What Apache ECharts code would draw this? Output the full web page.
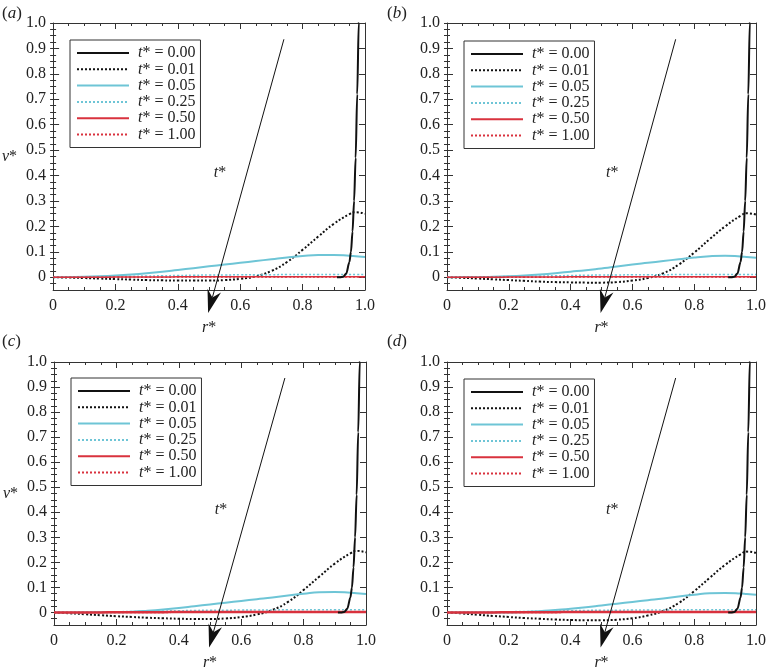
<!DOCTYPE html>
<html>
<head>
<meta charset="utf-8">
<script src="https://cdn.jsdelivr.net/npm/echarts@6/dist/echarts.min.js"></script>
<style>
  html, body { margin: 0; padding: 0; background: #fff; }
  #chart { width: 769px; height: 672px; }
</style>
</head>
<body>
<div id="chart"></div>
<script>
// ---- data ----
const seriesNames = ["t* = 0.00", "t* = 0.01", "t* = 0.05", "t* = 0.25", "t* = 0.50", "t* = 1.00"];
const xTicks = [0, 0.2, 0.4, 0.6, 0.8, 1.0];
const yTicks = [0, 0.1, 0.2, 0.3, 0.4, 0.5, 0.6, 0.7, 0.8, 0.9, 1.0];

// common r* sampling
const rGrid = [0, 0.05, 0.1, 0.15, 0.2, 0.25, 0.3, 0.35, 0.4, 0.45, 0.5, 0.55, 0.6, 0.65, 0.7, 0.75, 0.8, 0.85, 0.9, 0.95, 0.97, 1.0];
// r* sampling for the initial (t* = 0) wall profile
const rEdge = [0.91, 0.92, 0.93, 0.94, 0.95, 0.955, 0.96, 0.965, 0.97, 0.975, 0.98, 0.985];

// panel (a)
const v000A = [0, 0, 0.002, 0.015, 0.06, 0.1, 0.18, 0.3, 0.47, 0.72, 1.0, 1.35];
const v001A = [0, -0.001, -0.003, -0.005, -0.007, -0.009, -0.011, -0.012, -0.013, -0.013, -0.013, -0.011, -0.006, 0.004, 0.025, 0.06, 0.108, 0.16, 0.21, 0.248, 0.256, 0.25];
const v005A = [0, 0.001, 0.002, 0.004, 0.007, 0.011, 0.016, 0.022, 0.029, 0.036, 0.043, 0.05, 0.057, 0.064, 0.071, 0.078, 0.084, 0.088, 0.088, 0.085, 0.083, 0.08];
const v025A = [0, 0.001, 0.001, 0.002, 0.003, 0.004, 0.005, 0.006, 0.007, 0.008, 0.009, 0.009, 0.01, 0.01, 0.01, 0.011, 0.011, 0.011, 0.011, 0.011, 0.011, 0.011];
const v050A = [0, 0, 0, 0, 0.001, 0.001, 0.001, 0.001, 0.002, 0.002, 0.002, 0.002, 0.002, 0.002, 0.002, 0.002, 0.002, 0.002, 0.002, 0.002, 0.002, 0.002];
const v100A = [0, 0, 0, 0, 0, 0, 0, 0, 0.001, 0.001, 0.001, 0.001, 0.001, 0.001, 0.001, 0.001, 0.001, 0.001, 0.001, 0.001, 0.001, 0.001];

// panel (b)
const v000B = [0, 0, 0.002, 0.015, 0.06, 0.1, 0.18, 0.3, 0.47, 0.72, 1.0, 1.35];
const v001B = [0, -0.002, -0.005, -0.008, -0.011, -0.014, -0.017, -0.019, -0.02, -0.021, -0.021, -0.019, -0.013, -0.003, 0.016, 0.05, 0.097, 0.15, 0.2, 0.242, 0.252, 0.247];
const v005B = [0, 0.001, 0.001, 0.002, 0.004, 0.007, 0.011, 0.016, 0.022, 0.028, 0.035, 0.042, 0.05, 0.057, 0.064, 0.071, 0.078, 0.083, 0.085, 0.082, 0.08, 0.077];
const v025B = [0, 0.001, 0.001, 0.002, 0.003, 0.004, 0.005, 0.006, 0.007, 0.008, 0.009, 0.009, 0.01, 0.01, 0.01, 0.011, 0.011, 0.011, 0.011, 0.011, 0.011, 0.011];
const v050B = [0, 0, 0, 0, 0.001, 0.001, 0.001, 0.001, 0.002, 0.002, 0.002, 0.002, 0.002, 0.002, 0.002, 0.002, 0.002, 0.002, 0.002, 0.002, 0.002, 0.002];
const v100B = [0, 0, 0, 0, 0, 0, 0, 0, 0.001, 0.001, 0.001, 0.001, 0.001, 0.001, 0.001, 0.001, 0.001, 0.001, 0.001, 0.001, 0.001, 0.001];

// panel (c)
const v000C = [0, 0, 0.002, 0.015, 0.06, 0.1, 0.18, 0.3, 0.47, 0.72, 1.0, 1.35];
const v001C = [0, -0.003, -0.007, -0.011, -0.015, -0.018, -0.021, -0.023, -0.025, -0.026, -0.026, -0.024, -0.018, -0.008, 0.01, 0.042, 0.09, 0.143, 0.195, 0.236, 0.246, 0.24];
const v005C = [0, 0, 0, 0.001, 0.001, 0.003, 0.007, 0.012, 0.018, 0.025, 0.032, 0.039, 0.046, 0.053, 0.06, 0.068, 0.075, 0.081, 0.082, 0.079, 0.077, 0.074];
const v025C = [0, 0.001, 0.001, 0.002, 0.003, 0.004, 0.005, 0.006, 0.007, 0.008, 0.009, 0.009, 0.01, 0.01, 0.01, 0.011, 0.011, 0.011, 0.011, 0.011, 0.011, 0.011];
const v050C = [0, 0, 0, 0, 0.001, 0.001, 0.001, 0.001, 0.002, 0.002, 0.002, 0.002, 0.002, 0.002, 0.002, 0.002, 0.002, 0.002, 0.002, 0.002, 0.002, 0.002];
const v100C = [0, 0, 0, 0, 0, 0, 0, 0, 0.001, 0.001, 0.001, 0.001, 0.001, 0.001, 0.001, 0.001, 0.001, 0.001, 0.001, 0.001, 0.001, 0.001];

// panel (d)
const v000D = [0, 0, 0.002, 0.015, 0.06, 0.1, 0.18, 0.3, 0.47, 0.72, 1.0, 1.35];
const v001D = [0, -0.004, -0.009, -0.014, -0.018, -0.022, -0.025, -0.028, -0.03, -0.031, -0.031, -0.029, -0.023, -0.012, 0.006, 0.038, 0.085, 0.138, 0.19, 0.232, 0.243, 0.238];
const v005D = [0, 0, 0, 0, 0, 0.002, 0.005, 0.01, 0.015, 0.021, 0.028, 0.035, 0.042, 0.049, 0.056, 0.064, 0.071, 0.077, 0.078, 0.076, 0.074, 0.071];
const v025D = [0, 0.001, 0.001, 0.002, 0.003, 0.004, 0.005, 0.006, 0.007, 0.008, 0.009, 0.009, 0.01, 0.01, 0.01, 0.011, 0.011, 0.011, 0.011, 0.011, 0.011, 0.011];
const v050D = [0, 0, 0, 0, 0.001, 0.001, 0.001, 0.001, 0.002, 0.002, 0.002, 0.002, 0.002, 0.002, 0.002, 0.002, 0.002, 0.002, 0.002, 0.002, 0.002, 0.002];
const v100D = [0, 0, 0, 0, 0, 0, 0, 0, 0.001, 0.001, 0.001, 0.001, 0.001, 0.001, 0.001, 0.001, 0.001, 0.001, 0.001, 0.001, 0.001, 0.001];

// annotation: "t*" label and the arrow through the curves (data coords)
const tLabelPos = [0.535, 0.41];
const arrowFrom = [0.74, 0.936];
const arrowTo = [0.497, -0.14];

// ---- layout / style ----
const FONT = "Liberation Serif";
const BLACK = "#111";
const CYAN = "#6ec5d6";
const RED = "#d9323e";
const FRAME = "#333";
const TEXT = "#222";

const panels = [
  { tag: "a", grid: { left: 53, top: 23, width: 312, height: 267 }, legend: { left: 70, top: 40 }, title: { left: 2, top: 5 }, yName: true,
    data: [v000A, v001A, v005A, v025A, v050A, v100A], redWidth: 1.5 },
  { tag: "b", grid: { left: 447, top: 23, width: 310, height: 267 }, legend: { left: 464, top: 41 }, title: { left: 387, top: 5 }, yName: false,
    data: [v000B, v001B, v005B, v025B, v050B, v100B], redWidth: 1.5 },
  { tag: "c", grid: { left: 54, top: 362, width: 312, height: 266 }, legend: { left: 71, top: 378 }, title: { left: 2, top: 333 }, yName: true,
    data: [v000C, v001C, v005C, v025C, v050C, v100C], redWidth: 2.5 },
  { tag: "d", grid: { left: 447, top: 362, width: 310, height: 266 }, legend: { left: 464, top: 379 }, title: { left: 387, top: 333 }, yName: false,
    data: [v000D, v001D, v005D, v025D, v050D, v100D], redWidth: 2.5 }
];

const curveStyles = [
  { color: BLACK, width: 2, type: "solid" },
  { color: BLACK, width: 2, type: [2, 2] },
  { color: CYAN, width: 2, type: "solid" },
  { color: CYAN, width: 1.5, type: [2, 2] },
  { color: RED, width: 1.5, type: "solid" },
  { color: RED, width: 1.5, type: [2, 2] }
];

const yMinor = [];
for (let k = -1; k <= 40; k++) yMinor.push(+(k * 0.025).toFixed(3));

const labelFmt = (v) => (Math.abs(v) < 1e-9 ? "0" : v.toFixed(1));
const tickText = { fontFamily: FONT, fontSize: 16, color: TEXT };
const italicRich = (size) => ({ i: { fontFamily: FONT, fontSize: size, fontStyle: "italic", color: TEXT } });

// arrow + "t*" label, positioned through the axis scales
function renderAnnotation(params, api) {
  const lp = api.coord([api.value(0), api.value(1)]);
  const p0 = api.coord(arrowFrom);
  const p1 = api.coord(arrowTo);
  const dx = p1[0] - p0[0], dy = p1[1] - p0[1];
  const len = Math.sqrt(dx * dx + dy * dy);
  const ux = dx / len, uy = dy / len;   // direction
  const nx = -uy, ny = ux;              // normal
  const L = 23, W = 7, notch = 7;
  const bx = p1[0] - ux * L, by = p1[1] - uy * L;
  const mx = p1[0] - ux * (L - notch), my = p1[1] - uy * (L - notch);
  return {
    type: "group",
    children: [
      { type: "line", shape: { x1: p0[0], y1: p0[1], x2: mx, y2: my }, style: { stroke: "#111", lineWidth: 1 } },
      { type: "polygon", shape: { points: [[p1[0], p1[1]], [bx + nx * W, by + ny * W], [mx, my], [bx - nx * W, by - ny * W]] },
        style: { fill: "#111" } },
      { type: "text", x: lp[0], y: lp[1],
        style: { text: "{i|t}*", rich: italicRich(16), fontFamily: FONT, fontSize: 16, fill: TEXT, align: "center", verticalAlign: "middle" } }
    ]
  };
}

const grid = [], xAxis = [], yAxis = [], legend = [], title = [], series = [];

panels.forEach((p, gi) => {
  grid.push(Object.assign({ show: false }, p.grid));

  title.push({
    text: "{p|(}{i|" + p.tag + "}{p|)}",
    left: p.title.left, top: p.title.top, padding: 0,
    textStyle: {
      fontWeight: "normal",
      rich: {
        p: { fontFamily: FONT, fontSize: 17, fontWeight: "normal", color: TEXT },
        i: { fontFamily: FONT, fontSize: 17, fontWeight: "normal", fontStyle: "italic", color: TEXT }
      }
    }
  });

  const xBase = {
    gridIndex: gi, type: "value", min: 0, max: 1, interval: 0.2,
    axisLine: { show: true, onZero: false, lineStyle: { color: FRAME, width: 1 } },
    axisTick: { show: true, inside: true, length: 6, lineStyle: { color: FRAME } },
    minorTick: { show: true, splitNumber: 4, length: 3, lineStyle: { color: FRAME } },
    splitLine: { show: false }
  };
  xAxis.push(Object.assign({}, xBase, {
    position: "bottom",
    axisLabel: Object.assign({ margin: 8, customValues: xTicks, formatter: labelFmt }, tickText),
    name: "{i|r}*", nameLocation: "middle", nameGap: 30,
    nameTextStyle: { fontFamily: FONT, fontSize: 16, color: TEXT, rich: italicRich(16) }
  }));
  xAxis.push(Object.assign({}, xBase, { position: "top", axisLabel: { show: false } }));

  const yBase = { gridIndex: gi, type: "value", min: -0.05, max: 1, splitLine: { show: false } };
  const yName = p.yName ? {
    name: "{i|v}*", nameLocation: "middle", nameRotate: 0, nameGap: 36,
    nameTextStyle: { fontFamily: FONT, fontSize: 16, color: TEXT, rich: italicRich(16) }
  } : {};
  ["left", "right"].forEach((side) => {
    yAxis.push(Object.assign({}, yBase, side === "left" ? yName : {}, {
      position: side,
      axisLine: { show: true, onZero: false, lineStyle: { color: FRAME, width: 1 } },
      axisTick: { show: true, inside: true, length: 6, customValues: yTicks, lineStyle: { color: FRAME } },
      axisLabel: side === "left"
        ? Object.assign({ margin: 7, customValues: yTicks, formatter: labelFmt }, tickText)
        : { show: false }
    }));
    yAxis.push(Object.assign({}, yBase, {
      position: side,
      axisLine: { show: false },
      axisTick: { show: true, inside: true, length: 3, customValues: yMinor, lineStyle: { color: FRAME } },
      axisLabel: { show: false }
    }));
  });
  const yIdx = gi * 4;
  const xIdx = gi * 2;

  legend.push({
    left: p.legend.left, top: p.legend.top,
    orient: "vertical",
    data: seriesNames,
    itemWidth: 52, itemHeight: 14, itemGap: 0.3,
    padding: [5, 5, 5, 6],
    backgroundColor: "#fff",
    borderColor: "#333", borderWidth: 1, borderRadius: 0,
    selectedMode: false,
    formatter: (n) => "{i|t}" + n.slice(1),
    textStyle: {
      fontFamily: FONT, fontSize: 16, color: TEXT, padding: [0, 0, 0, 4],
      rich: { i: { fontFamily: FONT, fontSize: 16, fontStyle: "italic", color: TEXT } }
    }
  });

  p.data.forEach((vals, si) => {
    const st = curveStyles[si];
    const xs = si === 0 ? rEdge : rGrid;
    series.push({
      name: seriesNames[si],
      type: "line",
      xAxisIndex: xIdx, yAxisIndex: yIdx,
      data: xs.map((x, k) => [x, vals[k]]),
      showSymbol: false,
      symbol: "path://M0,0L1,1",      // zero-area symbol keeps the legend icon a bare line
      smooth: si === 0 ? 0.3 : 0.5,
      smoothMonotone: si === 0 ? "x" : undefined,
      clip: true, silent: true,
      lineStyle: { color: st.color, width: si === 4 ? p.redWidth : st.width, type: st.type },
      itemStyle: { color: st.color, borderWidth: 0 },
      z: si === 0 ? 3 : 2
    });
  });

  series.push({
    type: "custom",
    xAxisIndex: xIdx, yAxisIndex: yIdx,
    data: [tLabelPos],
    renderItem: renderAnnotation,
    clip: false, silent: true,
    z: 5
  });
});

const chart = echarts.init(document.getElementById("chart"), null, { renderer: "canvas" });
chart.setOption({
  animation: false,
  backgroundColor: "#fff",
  title, grid, xAxis, yAxis, legend, series
});
</script>
</body>
</html>
